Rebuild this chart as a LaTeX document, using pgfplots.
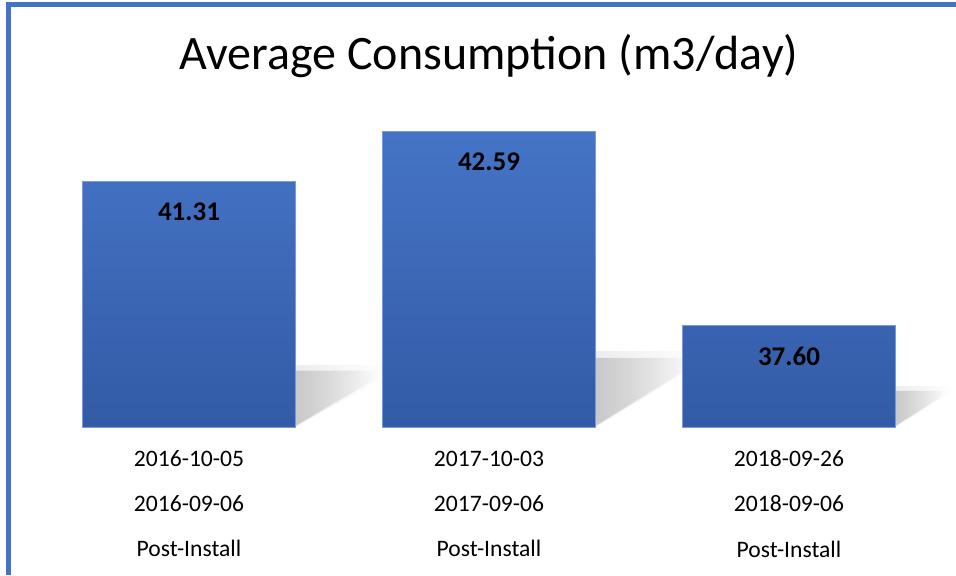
\documentclass[border=0pt]{standalone}
\usepackage{fontspec}
\setmainfont{Carlito}
\usepackage{pgfplots}
\pgfplotsset{compat=1.18}
\usetikzlibrary{fadings}

\definecolor{barTop}{HTML}{4574C6}
\definecolor{barBot}{HTML}{335BA6}
\definecolor{barEdge}{HTML}{7A9BDA}
\definecolor{frameBlue}{HTML}{4472C4}

\tikzfading[name=shfade, left color=transparent!15, middle color=transparent!35, right color=transparent!100]
\pgfplotsset{shade/.style={draw=none, fill=black!24, path fading=shfade, forget plot}}

\begin{document}
\begin{tikzpicture}
\useasboundingbox (0,0) rectangle (478pt,287.5pt);
% frame of the chart area
\draw[frameBlue, line width=2.5pt] (4.25pt,0) -- (4.25pt,285.5pt) -- (478pt,285.5pt);
\node[font=\fontsize{24}{28}\selectfont] at (244.5pt,259.5pt) {Average Consumption (m3/day)};

\begin{axis}[
  at={(19.5pt,74pt)}, anchor=south west,
  scale only axis,
  width=450pt, height=194.5pt,
  xmin=-0.5, xmax=2.5,
  ymin=0, ymax=10,
  y filter/.expression={y-35},
  axis line style={draw=none},
  tick style={draw=none},
  ytick=\empty,
  xtick={0,1,2},
  xticklabels={
    {\rule{0pt}{8pt}2016-10-05\\2016-09-06\\Post-Install},
    {\rule{0pt}{8pt}2017-10-03\\2017-09-06\\Post-Install},
    {\rule{0pt}{8pt}2018-09-26\\2018-09-06\\Post-Install}},
  xticklabel style={align=center, font=\fontsize{11.8}{22.7}\selectfont, yshift=-8pt},
  clip=false,
]
% soft floor shadows behind the bars
\addplot[shade, opacity=0.35] coordinates {(0.355,35.00) (0.355,36.60) (0.665,36.60) (0.665,36.35)} --cycle;
\addplot[shade] coordinates {(0.355,35.03) (0.355,36.45) (0.630,36.45) (0.630,36.28)} --cycle;

\addplot[shade, opacity=0.35] coordinates {(1.355,35.00) (1.355,36.95) (1.720,36.95) (1.720,36.70)} --cycle;
\addplot[shade] coordinates {(1.355,35.03) (1.355,36.78) (1.680,36.78) (1.680,36.58)} --cycle;

\addplot[shade, opacity=0.35] coordinates {(2.355,35.00) (2.355,36.05) (2.545,36.05) (2.545,35.92)} --cycle;
\addplot[shade] coordinates {(2.355,35.03) (2.355,35.93) (2.520,35.93) (2.520,35.84)} --cycle;

\addplot[ybar, bar width=106.5pt, draw=barEdge, line width=0.4pt,
  top color=barTop, bottom color=barBot,
  point meta=rawy,
  nodes near coords={\pgfmathprintnumber[fixed,fixed zerofill,precision=2,assume math mode=true]{\pgfplotspointmeta}},
  every node near coord/.style={anchor=north, yshift=-7pt,
    font=\fontsize{13.5}{15}\selectfont\bfseries, text=black}]
  coordinates {(0,41.31) (1,42.59) (2,37.60)};
\end{axis}
\end{tikzpicture}
\end{document}
